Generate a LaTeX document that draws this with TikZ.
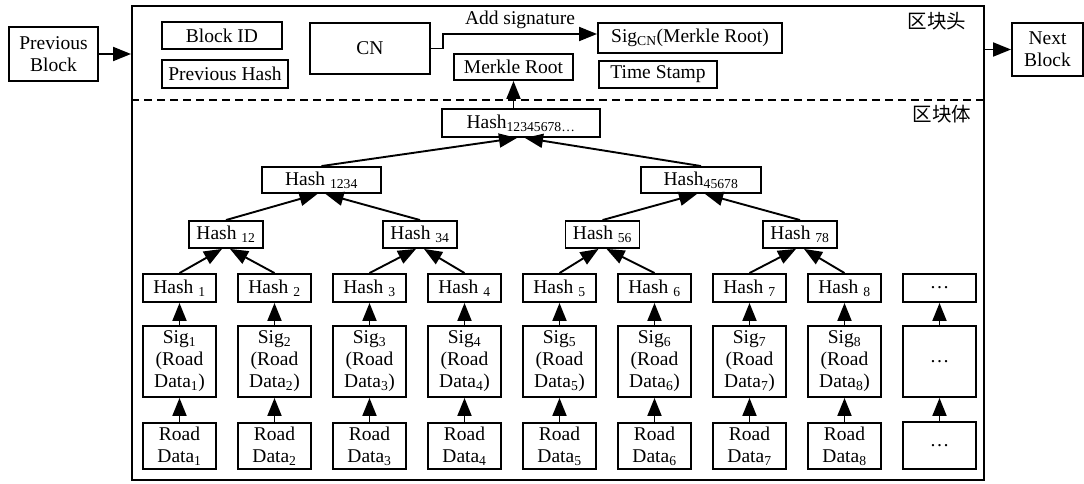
\documentclass[tikz,border=0pt]{standalone}
\usepackage{fontspec}
\setmainfont{Liberation Serif}
\newfontfamily\cjkfont{Noto Sans CJK SC}
\usetikzlibrary{arrows.meta,positioning}

\begin{document}
\begin{tikzpicture}[x=1pt, y=-1pt, font=\fontsize{19.5}{22}\selectfont,
      box/.style={draw, line width=1.9pt, inner sep=0pt, align=center},
      leaf/.style={box, minimum width=73},
      arrow/.style={-{Triangle[length=18pt, width=14pt]}, line width=1.9pt}]
    \useasboundingbox (0,0) rectangle (1084,484);
    % block frame, split into header and body
    \node[box, minimum width=852, minimum height=474] (blk) at (558,243) {};
    \coordinate (split) at (0,100);
    \draw[line width=1.9pt, dash pattern=on 8pt off 5pt]
      (blk.west |- split) -- (blk.east |- split);
    \node (headlbl) at (937,21) {\cjkfont 区块头};
    \node (bodylbl) at (942,114) {\cjkfont 区块体};
    % chain neighbours
    \node[box, minimum width=89, minimum height=54] (prev) at (53.5,54) {Previous\\Block};
    \node[box, minimum width=71, minimum height=53] (next) at (1047.5,49.5) {Next\\Block};
    \draw[arrow] (prev.east) -- (prev.east -| blk.west);
    \draw[arrow] (blk.east |- next.west) -- (next.west);
    % header fields
    \node[box, minimum width=120, minimum height=27] (bid) at (222,35.5) {Block ID};
    \node[box, minimum width=126, minimum height=28] (prevhash) at (225,74) {Previous Hash};
    \node[box, minimum width=120, minimum height=51] (cn) at (370,48.5) {CN};
    \node[box, minimum width=184, minimum height=30] (sigcn) at (690,38)
      {Sig\textsubscript{CN}(Merkle Root)};
    \node[box, minimum width=119, minimum height=26] (merkle) at (513.5,67) {Merkle Root};
    \node[box, minimum width=118, minimum height=27] (tstamp) at (658,74.5) {Time Stamp};
    \draw[arrow] (cn.east) -- ++(12,0) |- ([yshift=4pt]sigcn.west)
      node[pos=0.75, above=1pt] {Add signature};
    % merkle tree
    \node[box, minimum width=158, minimum height=28] (root) at (521,123)
      {Hash\textsubscript{12345678\dots}};
    \draw[arrow] (root.north -| merkle.south) -- (merkle.south);
    \node[box, minimum width=119, minimum height=26] (h1234) at (321.5,180) {Hash \textsubscript{1234}};
    \node[box, minimum width=120, minimum height=26] (h45678) at (701,180) {Hash\textsubscript{45678}};
    \node[box, minimum width=74, minimum height=27] (h12) at (226,234.5) {Hash \textsubscript{12}};
    \node[box, minimum width=74, minimum height=27] (h34) at (420,234.5) {Hash \textsubscript{34}};
    \node[box, minimum width=74, minimum height=27] (h56) at (602.5,234.5) {Hash \textsubscript{56}};
    \node[box, minimum width=74, minimum height=27] (h78) at (800,234.5) {Hash \textsubscript{78}};
    % leaves: road data, signature, hash
    \foreach \i in {1,...,8} {
      \pgfmathsetmacro\cx{179.5+95*(\i-1)}
      \node[leaf, minimum height=28] (h\i) at (\cx,288) {Hash \textsubscript{\i}};
      \node[leaf, minimum height=71] (s\i) at (\cx,361.5)
        {Sig\textsubscript{\i}\\(Road\\Data\textsubscript{\i})};
      \node[leaf, minimum height=46] (d\i) at (\cx,446) {Road\\Data\textsubscript{\i}};
      \draw[arrow] (d\i) -- (s\i);
      \draw[arrow] (s\i) -- (h\i);
    }
    \node[leaf, minimum height=28] (h9) at (939.5,288) {\dots};
    \node[leaf, minimum height=71] (s9) at (939.5,361.5) {\dots};
    \node[leaf, minimum height=47] (d9) at (939.5,445.5) {\dots};
    \draw[arrow] (d9) -- (s9);
    \draw[arrow] (s9) -- (h9);
    % tree edges
    \foreach \c/\p in {h1/h12, h3/h34, h5/h56, h7/h78, h12/h1234, h56/h45678, h1234/root}
      \draw[arrow] (\c.north) -- ([xshift=-4pt]\p.south);
    \foreach \c/\p in {h2/h12, h4/h34, h6/h56, h8/h78, h34/h1234, h78/h45678, h45678/root}
      \draw[arrow] (\c.north) -- ([xshift=4pt]\p.south);
  \end{tikzpicture}
\end{document}
